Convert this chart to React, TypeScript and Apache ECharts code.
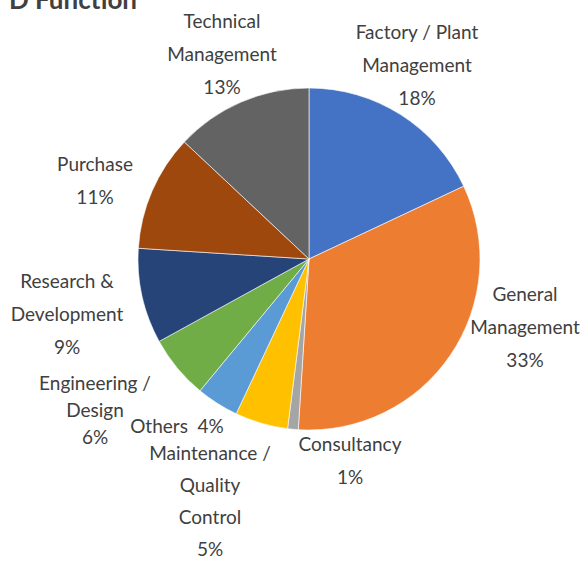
import React, { useEffect, useRef } from "react";
import * as echarts from "echarts";

const categories = [
  "Factory / Plant\nManagement",
  "General\nManagement",
  "Consultancy",
  "Maintenance /\nQuality\nControl",
  "Others",
  "Engineering /\nDesign",
  "Research &\nDevelopment",
  "Purchase",
  "Technical\nManagement",
];
const values = [18, 33, 1, 5, 4, 6, 9, 11, 13];
const colors = ["#4472C4", "#ED7D31", "#A5A5A5", "#FFC000", "#5B9BD5", "#70AD47", "#264478", "#9E480E", "#636363"];
const titleText = "D Function";

// label centre offsets from the pie centre (layout only)
const labelOffsets = [
  [108, -195],
  [216, 67],
  [41, 201],
  [-99, 241],
  [-132, 166],
  [-214, 150],
  [-242, 54],
  [-214, -79],
  [-87, -206],
];
const lineHeights = [33, 33, 33, 32, 33, 27, 33, 33, 33];

const CX = 309;
const CY = 259;

export default function App() {
  const ref = useRef<HTMLDivElement>(null);
  useEffect(() => {
    if (!ref.current) return;
    const chart = echarts.init(ref.current, null, { renderer: "svg" });
    chart.setOption({
      animation: false,
      backgroundColor: "#ffffff",
      graphic: [
        {
          type: "text",
          x: 137,
          y: 12,
          style: {
            text: titleText,
            font: "bold 26px Lato",
            fill: "#404040",
            textAlign: "right",
            textVerticalAlign: "bottom",
          },
        },
      ],
      series: [
        {
          type: "pie",
          center: [CX, CY],
          radius: [0, 171],
          startAngle: 90,
          clockwise: true,
          avoidLabelOverlap: false,
          itemStyle: { borderColor: "#ffffff", borderWidth: 0.6 },
          label: {
            show: true,
            position: "outside",
            fontFamily: "Lato",
            fontSize: 19,
            color: "#404040",
            align: "center",
            formatter: (p: any) =>
              p.dataIndex === 4 ? `${p.name}  ${p.value}%` : `${p.name}\n${p.value}%`,
          },
          labelLine: { show: false },
          labelLayout: (params: any) => {
            const o = labelOffsets[params.dataIndex];
            return {
              x: CX + o[0],
              y: CY + o[1],
              align: "center",
              verticalAlign: "middle",
            };
          },
          data: categories.map((c, i) => ({
            name: c,
            value: values[i],
            itemStyle: { color: colors[i] },
            label: { lineHeight: lineHeights[i] },
          })),
        },
      ],
    });
    return () => chart.dispose();
  }, []);
  return (
    <div
      ref={ref}
      style={{ position: "fixed", left: 0, top: 0, width: 584, height: 561 }}
    />
  );
}
